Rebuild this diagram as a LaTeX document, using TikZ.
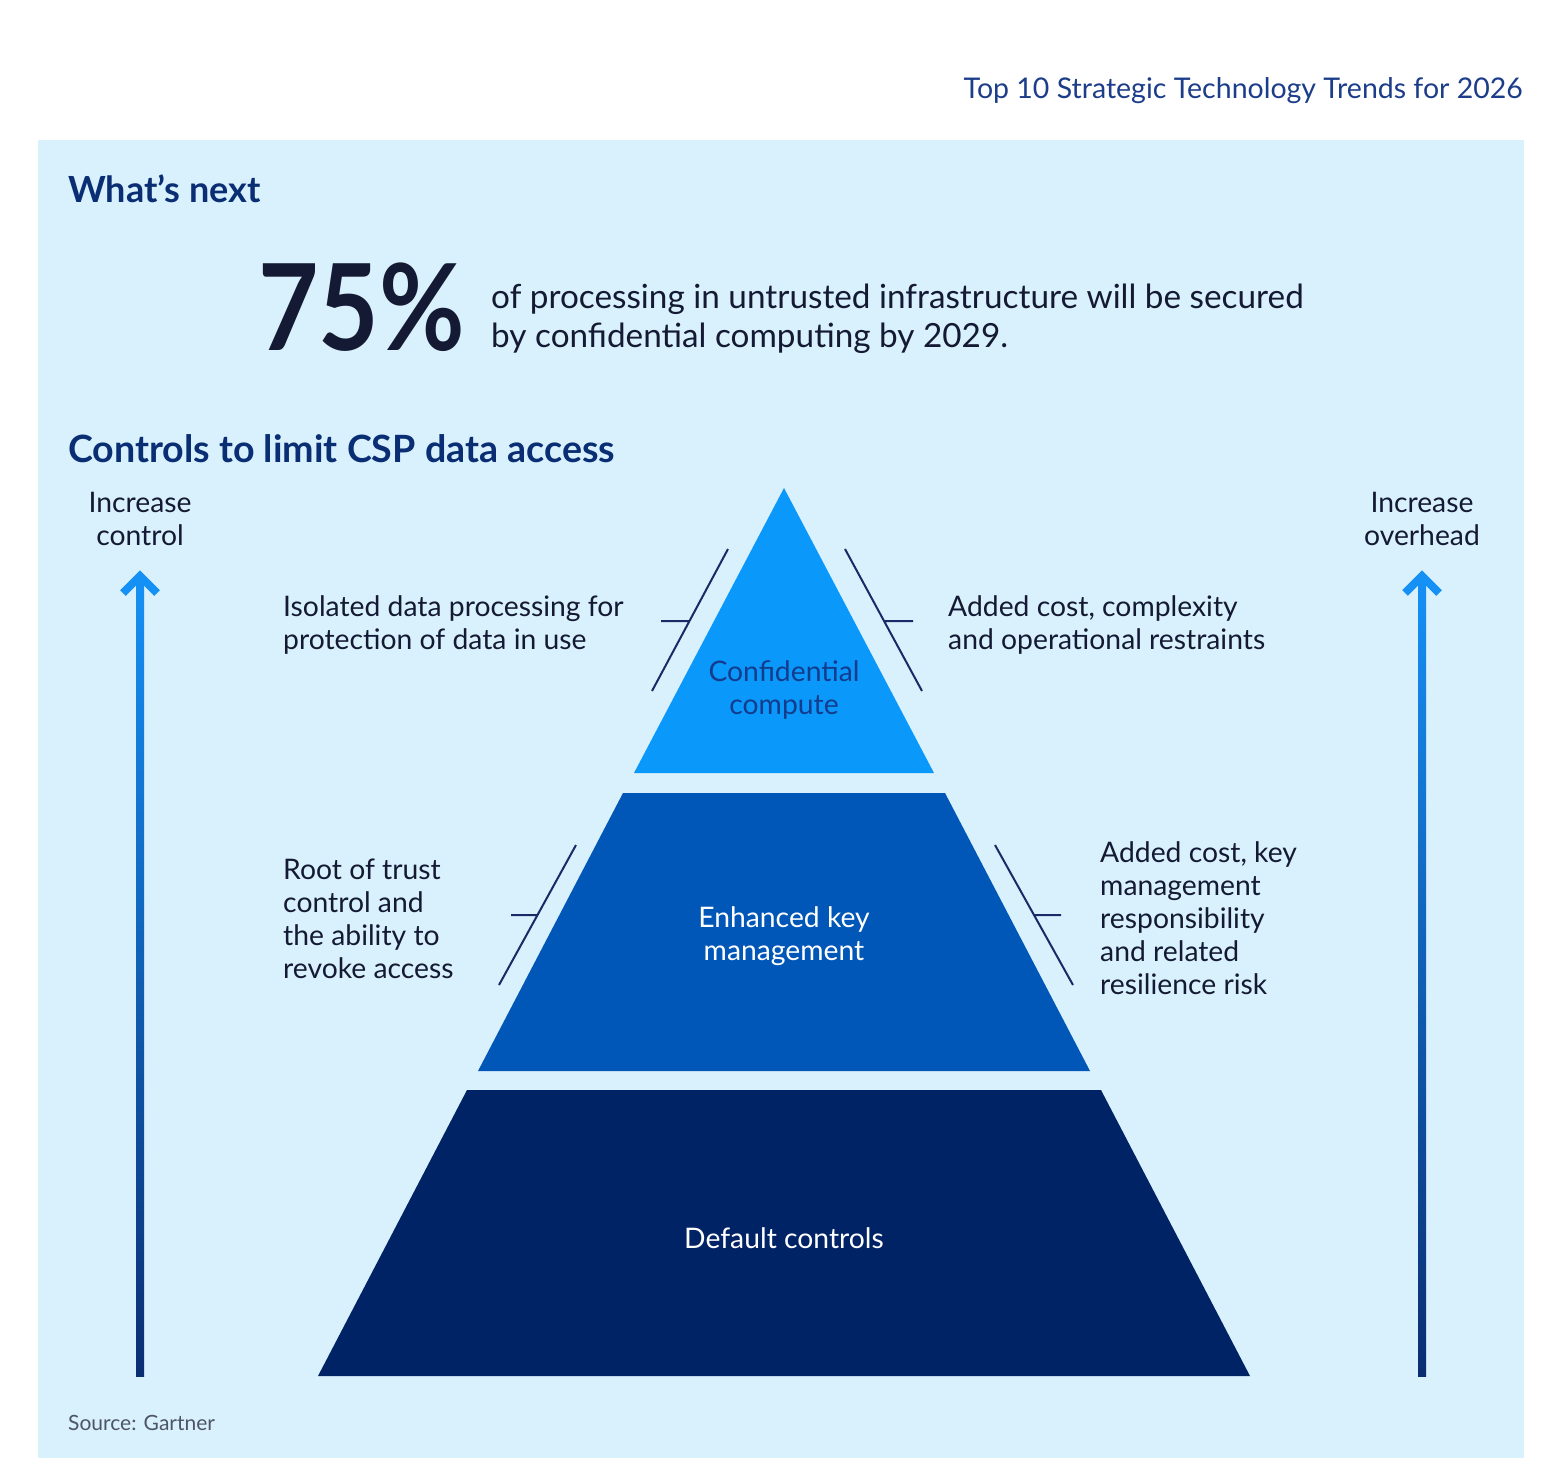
\documentclass[tikz,border=0pt]{standalone}
\usepackage{fontspec}
\setmainfont{Lato}
\usepackage[dvipsnames]{xcolor}
\definecolor{panelbg}{HTML}{D9F0FD}
\definecolor{navy}{HTML}{0A2E73}
\definecolor{inkcol}{HTML}{141A33}
\definecolor{titlecol}{HTML}{1C3D89}
\definecolor{tiertop}{HTML}{0A98FB}
\definecolor{tiermid}{HTML}{0057B7}
\definecolor{tierbot}{HTML}{002366}
\definecolor{tiertxt}{HTML}{133C8C}
\definecolor{markcol}{HTML}{1B2A66}
\definecolor{arrowtop}{HTML}{1590F5}
\definecolor{arrowbot}{HTML}{0B2D72}
\definecolor{srccol}{HTML}{4D5566}
\usepackage{tikz}
\usetikzlibrary{positioning, calc}

\tikzset{
  sidetxt/.style={inner sep=0pt, text=inkcol, align=left, anchor=base west, font=\fontsize{28.3}{33}\selectfont},
  midtxt/.style={inner sep=0pt, align=center, font=\fontsize{28.3}{33}\selectfont},
  bracketln/.style={markcol, line width=2pt},
}

\begin{document}
\begin{tikzpicture}[x=1pt, y=-1pt]
  \useasboundingbox (0,0) rectangle (1554,1479);
  \fill[white] (0,0) rectangle (1554,1479);
  \fill[panelbg] (38,140) rectangle (1524,1458);

  % 标题
  \node[anchor=base east, inner sep=0pt, text=titlecol, font=\fontsize{28.5}{34}\selectfont] (trend) at (1523,99) {Top 10 Strategic Technology Trends for 2026};
  \node[anchor=base west, inner sep=0pt, text=navy, font=\bfseries\fontsize{36}{40}\selectfont] (next) at (68,203) {What’s next};
  \node[anchor=base west, inner sep=0pt, text=inkcol, font=\bfseries\fontsize{120}{120}\selectfont] (pct) at (258,350) {\scalebox{0.87}[1]{75\%}};
  % 多行节点的 base 在最后一行
  \node[sidetxt, font=\fontsize{33.3}{39}\selectfont] (claim) at (491,347) {of processing in untrusted infrastructure will be secured\\by confidential computing by 2029.};
  \node[anchor=base west, inner sep=0pt, text=navy, font=\bfseries\fontsize{37.6}{42}\selectfont] (ctrl) at (68,462) {Controls to limit CSP data access};

  % 金字塔
  \coordinate (apex) at (784,488);
  \fill[tiertop] (apex) -- (934,773) -- (634,773) -- cycle;
  \fill[tiermid] (623,793) -- (945,793) -- (1090,1071) -- (478,1071) -- cycle;
  \fill[tierbot] (467,1090) -- (1101,1090) -- (1250,1376) -- (318,1376) -- cycle;
  \node[midtxt, text=tiertxt] (conf) at (784,690) {Confidential\\compute};
  \node[midtxt, text=white] (ekm) at (784,936) {Enhanced key\\management};
  \node[midtxt, text=white] (dflt) at (784,1238) {Default controls};

  % 说明文字
  \node[sidetxt] (iso) at (283,649) {Isolated data processing for\\protection of data in use};
  \node[sidetxt] (cost1) at (948,649) {Added cost, complexity\\and operational restraints};
  \node[sidetxt] (root) at (283,978) {Root of trust\\control and\\the ability to\\revoke access};
  \node[sidetxt] (cost2) at (1100,994) {Added cost, key\\management\\responsibility\\and related\\resilience risk};

  % 括号线
  \draw[bracketln] (652,691) -- (728,549) (661,621) -- (690,621);
  \draw[bracketln] (845,549) -- (922,691) (884,621) -- (913,621);
  \draw[bracketln] (499,985) -- (576,845) (511,915) -- (538,915);
  \draw[bracketln] (995,845) -- (1073,985) (1034,915) -- (1061,915);

  % 箭头
  \foreach \ax/\nm/\txt in {140/ctl/{Increase\\control}, 1422/ovh/{Increase\\overhead}} {
    \coordinate (\nm-top) at (\ax,576);
    \coordinate (\nm-bot) at (\ax,1376);
    \shade[top color=arrowtop, bottom color=arrowbot] ($(\nm-top)+(-4,4)$) rectangle ($(\nm-bot)+(4,0)$);
    \draw[arrowtop, line width=8pt] ($(\nm-top)+(-17,17)$) -- (\nm-top) -- ($(\nm-top)+(17,17)$);
    \node[midtxt, text=inkcol] (\nm-lbl) at (\ax,519) {\txt};
  }

  \node[anchor=base west, inner sep=0pt, text=srccol, font=\fontsize{21}{24}\selectfont] (src) at (68,1430) {Source: Gartner};
\end{tikzpicture}
\end{document}
